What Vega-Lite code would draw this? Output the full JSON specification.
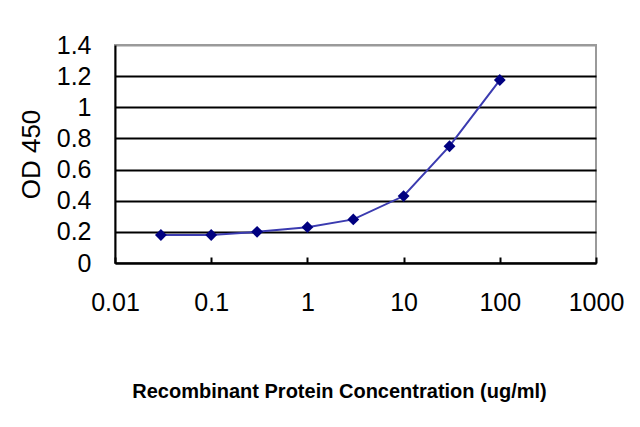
{
  "$schema": "https://vega.github.io/schema/vega-lite/v6.json",
  "autosize": "none",
  "width": 481,
  "height": 218,
  "padding": {"left": 115, "top": 45, "right": 44, "bottom": 164},
  "background": "white",
  "config": {
    "view": {"stroke": "#9a9a9a", "strokeWidth": 2},
    "font": "Liberation Sans"
  },
  "data": {
    "values": [
      {"conc": 0.03, "od": 0.18},
      {"conc": 0.1, "od": 0.18},
      {"conc": 0.3, "od": 0.2},
      {"conc": 1, "od": 0.23},
      {"conc": 3, "od": 0.28},
      {"conc": 10, "od": 0.43},
      {"conc": 30, "od": 0.75},
      {"conc": 100, "od": 1.175}
    ]
  },
  "encoding": {
    "x": {
      "field": "conc",
      "type": "quantitative",
      "scale": {"type": "log", "domain": [0.01, 1000], "nice": false},
      "axis": {
        "title": "Recombinant Protein Concentration (ug/ml)",
        "values": [0.01, 0.1, 1, 10, 100, 1000],
        "format": "~g",
        "grid": false,
        "domainColor": "black",
        "domainWidth": 2,
        "tickColor": "black",
        "tickWidth": 2,
        "tickSize": -6,
        "labelPadding": 33,
        "labelFontSize": 25,
        "labelColor": "black",
        "labelFlush": false,
        "titleFontSize": 20,
        "titleFontWeight": "bold",
        "titleColor": "black",
        "titlePadding": 66,
        "titleX": 224
      }
    },
    "y": {
      "field": "od",
      "type": "quantitative",
      "scale": {"domain": [0, 1.4], "nice": false},
      "axis": {
        "title": "OD 450",
        "values": [0, 0.2, 0.4, 0.6, 0.8, 1, 1.2, 1.4],
        "format": "~g",
        "grid": true,
        "gridColor": {"condition": {"test": "datum.value === 1.4", "value": "#9a9a9a"}, "value": "black"},
        "gridWidth": 2,
        "gridOpacity": 1,
        "ticks": false,
        "domainColor": "black",
        "domainWidth": 2,
        "labelPadding": 24,
        "labelFontSize": 25,
        "labelColor": "black",
        "labelFlush": false,
        "titleFontSize": 26,
        "titleFontWeight": "normal",
        "titleColor": "black",
        "titlePadding": 12
      }
    }
  },
  "layer": [
    {"mark": {"type": "line", "color": "#3b3bb0", "strokeWidth": 2}},
    {"mark": {"type": "point", "shape": "diamond", "filled": true, "color": "#000080", "size": 140, "opacity": 1}}
  ]
}
